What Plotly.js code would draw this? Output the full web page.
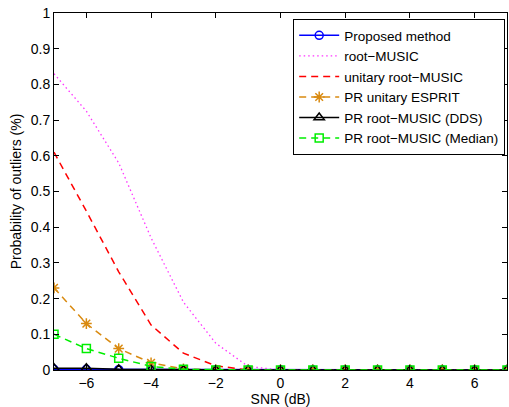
<!DOCTYPE html>
<html>
<head>
<meta charset="utf-8">
<script src="https://cdn.plot.ly/plotly-3.0.1.min.js"></script>
<style>html,body{margin:0;padding:0;background:#fff}#chart{width:509px;height:407px}</style>
</head>
<body>
<div id="chart"></div>
<script>
var snr = [-7,-6,-5,-4,-3,-2,-1,0,1,2,3,4,5,6,7];
var proposed    = [0.002,0.002,0.001,0,0,0,0,0,0,0,0,0,0,0,0];
var rootMusic   = [0.83,0.725,0.58,0.37,0.19,0.075,0.01,0,0,0,0,0,0,0,0];
var unitaryRM   = [0.61,0.445,0.275,0.126,0.047,0.012,0,0,0,0,0,0,0,0,0];
var prEsprit    = [0.23,0.13,0.06,0.02,0.003,0,0,0,0,0,0,0,0,0,0];
var prDDS       = [0.005,0.005,0.002,0.001,0,0,0,0,0,0,0,0,0,0,0];
var prMedian    = [0.1,0.06,0.033,0.01,0.002,0,0,0,0,0,0,0,0,0,0];
var names = ['Proposed method','root\u2212MUSIC','unitary root\u2212MUSIC','PR unitary ESPRIT','PR root\u2212MUSIC (DDS)','PR root\u2212MUSIC (Median)'];
var xTicks = [-6,-4,-2,0,2,4,6];
var xTickText = ['\u22126','\u22124','\u22122','0','2','4','6'];
var yTicks = [0,0.1,0.2,0.3,0.4,0.5,0.6,0.7,0.8,0.9,1];
var yTickText = ['0','0.1','0.2','0.3','0.4','0.5','0.6','0.7','0.8','0.9','1'];

var traces = [
 {x:snr,y:proposed,name:names[0],mode:'lines+markers',line:{color:'#0000ff',width:1.5},
  marker:{symbol:'circle-open',size:8,color:'#0000ff',line:{width:1.5}}},
 {x:snr,y:rootMusic,name:names[1],mode:'lines',line:{color:'#ff33ff',width:1.3,dash:'1.5px,3px'}},
 {x:snr,y:unitaryRM,name:names[2],mode:'lines',line:{color:'#ff0000',width:1.5,dash:'7px,5px'}},
 {x:snr,y:prEsprit,name:names[3],mode:'lines+markers',line:{color:'#d98a10',width:1.5,dash:'7px,5px'},
  marker:{symbol:'asterisk-open',size:9,color:'#d98a10',line:{width:1.5,color:'#d98a10'}}},
 {x:snr,y:prDDS,name:names[4],mode:'lines+markers',line:{color:'#000000',width:1.5},
  marker:{symbol:'triangle-up-open',size:9,color:'#000000',line:{width:1.5}}},
 {x:snr,y:prMedian,name:names[5],mode:'lines+markers',line:{color:'#00ee00',width:1.5,dash:'7px,5px'},
  marker:{symbol:'square-open',size:8,color:'#00ee00',line:{width:1.5}}}
];

var layout = {
 width:509,height:407,
 margin:{l:54,r:2,t:13,b:37},
 paper_bgcolor:'#ffffff',plot_bgcolor:'#ffffff',
 font:{family:'Liberation Sans, Arial, sans-serif',size:14,color:'#000'},
 showlegend:true,
 legend:{x:0.996,y:0.983,xanchor:'right',yanchor:'top',bgcolor:'#ffffff',bordercolor:'#000',borderwidth:1,
   font:{size:13.5},tracegroupgap:0,itemwidth:40},
 xaxis:{range:[-7,7],tickvals:xTicks,ticktext:xTickText,ticks:'inside',ticklen:5,tickcolor:'#000',showgrid:false,zeroline:false,
   showline:true,linecolor:'#000',linewidth:1,mirror:'ticks',
   title:{text:'SNR (dB)',standoff:1,font:{size:14}},tickfont:{size:14}},
 yaxis:{range:[0,1],tickvals:yTicks,ticktext:yTickText,ticks:'inside',ticklen:5,tickcolor:'#000',showgrid:false,zeroline:false,
   showline:true,linecolor:'#000',linewidth:1,mirror:'ticks',
   title:{text:'Probability of outliers (%)',standoff:5,font:{size:14}},tickfont:{size:14}}
};
Plotly.newPlot('chart',traces,layout,{displayModeBar:false,staticPlot:true});
</script>
</body>
</html>
